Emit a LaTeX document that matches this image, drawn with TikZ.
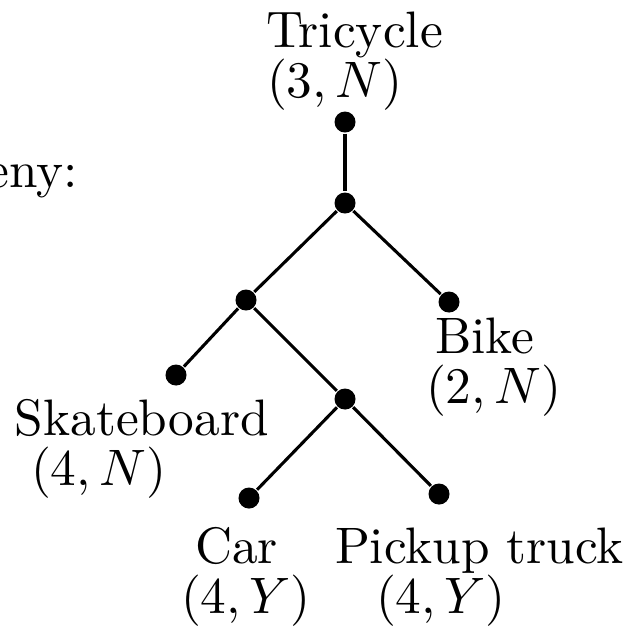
\documentclass[tikz,border=0pt]{standalone}
\begin{document}
\begin{tikzpicture}[x=0.195pt,y=-0.195pt,
  dot/.style={circle,fill=black,draw=none,minimum size=4.1pt,inner sep=0pt},
  lbl/.style={anchor=base west,inner sep=0pt,outer sep=0pt},
  edge/.style={line width=0.6pt}]
\useasboundingbox (0,0) rectangle (639,630);
% dots
\node[dot] (t) at (345,122) {};
\node[dot] (r) at (345,203) {};
\node[dot] (a) at (246,300) {};
\node[dot] (bike) at (449,302) {};
\node[dot] (sk) at (176,375) {};
\node[dot] (b) at (345,399) {};
\node[dot] (car) at (249,498) {};
\node[dot] (pk) at (439,494) {};
% edges
\draw[edge] (t) -- (r);
\draw[edge] (r) -- (a);
\draw[edge] (r) -- (bike);
\draw[edge] (a) -- (sk);
\draw[edge] (a) -- (b);
\draw[edge] (b) -- (car);
\draw[edge] (b) -- (pk);
% labels
\node[lbl,anchor=base east] (phy) at (78,187) {eny:};
\node[lbl] (tn) at (266,47) {Tricycle};
\node[lbl] (tv) at (267,97) {$(3,N)$};
\node[lbl] (bn) at (435,353) {Bike};
\node[lbl] (bv) at (426,403) {$(2,N)$};
\node[lbl] (sn) at (15,435) {Skateboard};
\node[lbl] (sv) at (31,485) {$(4,N)$};
\node[lbl] (cn) at (195,563) {Car};
\node[lbl] (cv) at (181,613) {$(4,Y)$};
\node[lbl] (pn) at (335,563) {Pickup truck};
\node[lbl] (pv) at (376,613) {$(4,Y)$};
\end{tikzpicture}
\end{document}
